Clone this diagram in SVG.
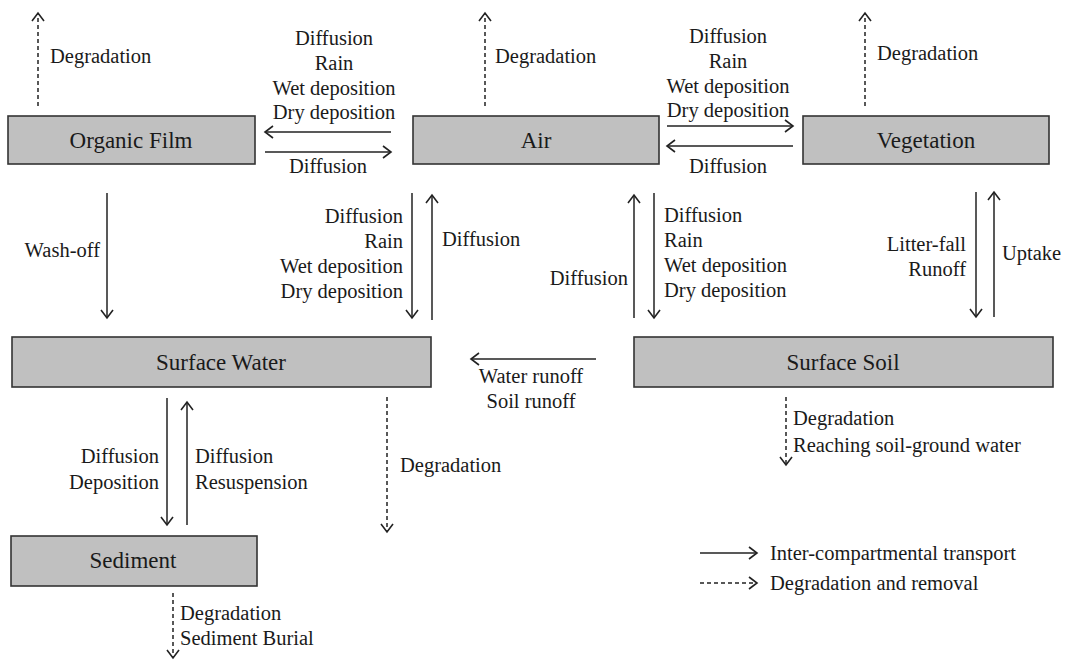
<svg xmlns="http://www.w3.org/2000/svg" width="1066" height="661" viewBox="0 0 1066 661">
<style>
.box{fill:#c0c0c0;stroke:#333;stroke-width:1.6}
text{font-family:'Liberation Serif','Times New Roman',Tinos,'Noto Serif','DejaVu Serif',serif;fill:#1a1a1a}
.bl{font-size:23px;text-anchor:middle}
.t{font-size:20.5px}
.m{text-anchor:middle}
.e{text-anchor:end}
.s{stroke:#222;stroke-width:1.5;fill:none;marker-end:url(#ah)}
.d{stroke:#222;stroke-width:1.5;fill:none;stroke-dasharray:4,3;marker-end:url(#ah)}
</style>
<defs>
<marker id="ah" markerUnits="userSpaceOnUse" markerWidth="14" markerHeight="14" viewBox="-10 -7 12 14" refX="0" refY="0" orient="auto">
<path d="M-8,-6 L0,0 L-8,6" fill="none" stroke="#222" stroke-width="1.6"/>
</marker>
</defs>
<rect width="1066" height="661" fill="#fff"/>

<g id="organic-film"><rect class="box" x="8" y="116" width="247" height="48"/><text class="bl" x="131" y="148">Organic Film</text></g>
<g id="air"><rect class="box" x="413" y="116" width="246" height="48"/><text class="bl" x="536" y="148">Air</text></g>
<g id="vegetation"><rect class="box" x="803" y="116" width="246" height="48"/><text class="bl" x="926" y="148">Vegetation</text></g>
<g id="surface-water"><rect class="box" x="12" y="337" width="419" height="50"/><text class="bl" x="221" y="370">Surface Water</text></g>
<g id="surface-soil"><rect class="box" x="634" y="337" width="419" height="50"/><text class="bl" x="843" y="370">Surface Soil</text></g>
<g id="sediment"><rect class="box" x="11" y="536" width="246" height="50"/><text class="bl" x="133" y="568">Sediment</text></g>

<g id="connectors">
<path class="s" d="M391,132 H265"/>
<path class="s" d="M265,152 H391"/>
<path class="s" d="M667,126 H793"/>
<path class="s" d="M793,146 H667"/>
<path class="s" d="M107,193 V318"/>
<path class="s" d="M412,193 V318"/>
<path class="s" d="M432,320 V195"/>
<path class="s" d="M634,318 V195"/>
<path class="s" d="M654,193 V318"/>
<path class="s" d="M976,192 V317"/>
<path class="s" d="M994,317 V192"/>
<path class="s" d="M596,359 H471"/>
<path class="s" d="M167,398 V525"/>
<path class="s" d="M187,525 V402"/>
<path class="d" d="M38,106 V13"/>
<path class="d" d="M485,106 V13"/>
<path class="d" d="M865,106 V13"/>
<path class="d" d="M387,397 V532"/>
<path class="d" d="M786,397 V465"/>
<path class="d" d="M173,593 V658"/>
</g>

<g id="labels">
<text class="t" x="50" y="63">Degradation</text>
<text class="t" x="495" y="63">Degradation</text>
<text class="t" x="877" y="60">Degradation</text>

<text class="t m" x="334" y="45">Diffusion</text>
<text class="t m" x="334" y="70">Rain</text>
<text class="t m" x="334" y="95">Wet deposition</text>
<text class="t m" x="334" y="119">Dry deposition</text>
<text class="t m" x="328" y="173">Diffusion</text>

<text class="t m" x="728" y="43">Diffusion</text>
<text class="t m" x="728" y="68">Rain</text>
<text class="t m" x="728" y="93">Wet deposition</text>
<text class="t m" x="728" y="117">Dry deposition</text>
<text class="t m" x="728" y="173">Diffusion</text>

<text class="t e" x="100" y="257">Wash-off</text>

<text class="t e" x="403" y="223">Diffusion</text>
<text class="t e" x="403" y="248">Rain</text>
<text class="t e" x="403" y="273">Wet deposition</text>
<text class="t e" x="403" y="298">Dry deposition</text>
<text class="t" x="442" y="246">Diffusion</text>

<text class="t e" x="628" y="285">Diffusion</text>
<text class="t" x="664" y="222">Diffusion</text>
<text class="t" x="664" y="247">Rain</text>
<text class="t" x="664" y="272">Wet deposition</text>
<text class="t" x="664" y="297">Dry deposition</text>

<text class="t e" x="966" y="251">Litter-fall</text>
<text class="t e" x="966" y="276">Runoff</text>
<text class="t" x="1002" y="260">Uptake</text>

<text class="t m" x="531" y="383">Water runoff</text>
<text class="t m" x="531" y="408">Soil runoff</text>

<text class="t e" x="159" y="463">Diffusion</text>
<text class="t e" x="159" y="489">Deposition</text>
<text class="t" x="195" y="463">Diffusion</text>
<text class="t" x="195" y="489">Resuspension</text>
<text class="t" x="400" y="472">Degradation</text>

<text class="t" x="793" y="425">Degradation</text>
<text class="t" x="793" y="452">Reaching soil-ground water</text>

<text class="t" x="180" y="620">Degradation</text>
<text class="t" x="180" y="645">Sediment Burial</text>
</g>

<g id="legend">
<path class="s" d="M700,553 H757"/>
<path class="d" d="M700,583 H757"/>
<text class="t" x="770" y="560">Inter-compartmental transport</text>
<text class="t" x="770" y="590">Degradation and removal</text>
</g>
</svg>
